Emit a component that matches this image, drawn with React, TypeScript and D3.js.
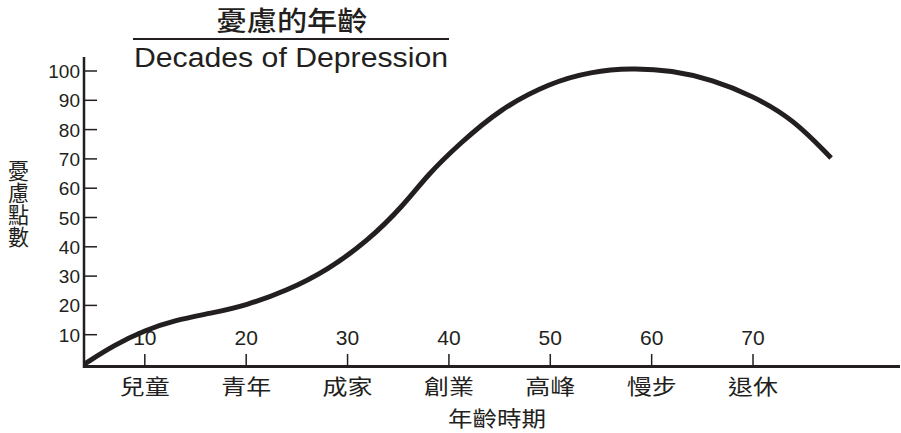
import { useMemo } from 'react';
import * as d3 from 'd3';

const WIDTH = 901;
const HEIGHT = 433;

// curve: age -> worry score
const ages = [4.05, 7, 10, 13, 16.5, 20, 24, 28, 32, 35.5, 38, 41, 45, 50, 54, 58, 62, 66, 70, 74, 77.7];
const scores = [0, 6.5, 11.5, 15, 17.3, 20, 25, 32, 42, 54, 65, 75, 87, 96, 99.8, 101, 100.2, 97, 91.5, 83.5, 70.3];

const tickAges = [10, 20, 30, 40, 50, 60, 70];
const stageLabels = ['兒童', '青年', '成家', '創業', '高峰', '慢步', '退休'];
const yTicks = [10, 20, 30, 40, 50, 60, 70, 80, 90, 100];

const INK = '#231f20';
const FONT = "'Liberation Sans', Arial, 'Noto Sans CJK TC', sans-serif";
const CJK = "'Noto Sans CJK TC', 'Liberation Sans', sans-serif";

export default function App() {
  const x = useMemo(() => d3.scaleLinear().domain([4, 84.5]).range([84, 900]), []);
  const y = useMemo(() => d3.scaleLinear().domain([0, 100]).range([364, 71]), []);

  const path = useMemo(() => {
    const line = d3
      .line<number>()
      .x((_, i) => x(ages[i]))
      .y((d) => y(d))
      .curve(d3.curveBasis);
    return line(scores) ?? '';
  }, [x, y]);

  const axisY = 366.5;
  const axisX = x(4);

  return (
    <svg width={WIDTH} height={HEIGHT} style={{ position: 'absolute', left: 0, top: 0, background: '#fff' }}>
      {/* title */}
      <text x={292} y={31} textAnchor="middle" fontFamily={CJK} fontSize={27} fontWeight={500} fill={INK} textLength={151} lengthAdjust="spacingAndGlyphs">
        憂慮的年齡
      </text>
      <line x1={133} x2={449} y1={39} y2={39} stroke={INK} strokeWidth={2} />
      <text x={291} y={67} textAnchor="middle" fontFamily={FONT} fontSize={27} fill={INK} textLength={314} lengthAdjust="spacingAndGlyphs">
        Decades of Depression
      </text>

      {/* y axis */}
      <line x1={axisX} x2={axisX} y1={57} y2={axisY + 1.5} stroke={INK} strokeWidth={2.5} />
      {yTicks.map((t) => (
        <g key={t}>
          <line x1={axisX} x2={97} y1={y(t)} y2={y(t)} stroke={INK} strokeWidth={1.5} />
          <text x={80} y={y(t) + 7} textAnchor="end" fontFamily={FONT} fontSize={19} fill={INK}>
            {t}
          </text>
        </g>
      ))}
      <text
        x={18.5}
        y={160}
        fontFamily={CJK}
        fontSize={21}
        fill={INK}
        style={{ writingMode: 'vertical-rl' }}
        textLength={88}
        lengthAdjust="spacingAndGlyphs"
      >
        憂慮點數
      </text>

      {/* x axis */}
      <line x1={axisX - 1} x2={900} y1={axisY} y2={axisY} stroke={INK} strokeWidth={3} />
      {tickAges.map((t, i) => (
        <g key={t}>
          <line x1={x(t)} x2={x(t)} y1={axisY} y2={354} stroke={INK} strokeWidth={1.5} />
          <text x={x(t)} y={345} textAnchor="middle" fontFamily={FONT} fontSize={21} fill={INK}>
            {t}
          </text>
          <text x={x(t)} y={394} textAnchor="middle" fontFamily={CJK} fontSize={21} fill={INK} textLength={50} lengthAdjust="spacingAndGlyphs">
            {stageLabels[i]}
          </text>
        </g>
      ))}
      <text x={497} y={426} textAnchor="middle" fontFamily={CJK} fontSize={21} fill={INK} textLength={98} lengthAdjust="spacingAndGlyphs">
        年齡時期
      </text>

      {/* curve */}
      <path d={path} fill="none" stroke={INK} strokeWidth={5} strokeLinecap="butt" />
    </svg>
  );
}
